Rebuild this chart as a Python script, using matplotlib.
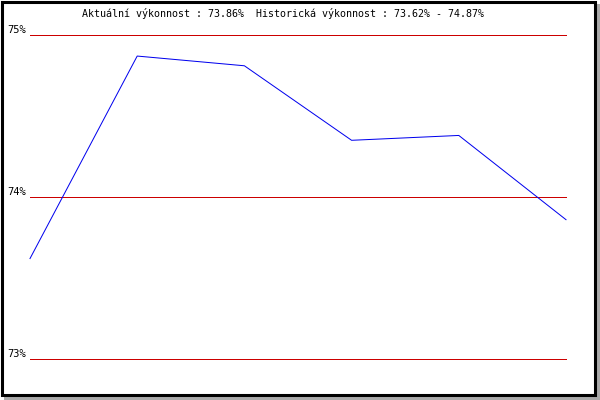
import matplotlib
matplotlib.use("Agg")
import matplotlib.pyplot as plt
from matplotlib.patches import Rectangle

# values
periods = [0, 1, 2, 3, 4, 5]
performance = [73.62, 74.87, 74.81, 74.35, 74.38, 73.86]
y_ticks = [73, 74, 75]
y_tick_labels = ["73%", "74%", "75%"]
title = "Aktuální výkonnost : 73.86%  Historická výkonnost : 73.62% - 74.87%"

W, H = 600, 400


def px(x, y):
    """Pixel coords (top-left origin) -> figure fraction."""
    return x / W, 1 - y / H


fig = plt.figure(figsize=(6, 4), dpi=100)
fig.patch.set_facecolor("white")

# drop shadow + black frame (kept below the axes)
fig.add_artist(Rectangle((4 / W, 0), 596 / W, 396 / H, transform=fig.transFigure,
                         facecolor="#aaaaaa", edgecolor="none", zorder=-2))
fig.add_artist(Rectangle((1.5 / W, 5.5 / H), 593.5 / W, 393 / H, transform=fig.transFigure,
                         facecolor="white", edgecolor="black", linewidth=2.2, zorder=-1))

left, top = px(30, 35)
right, bottom = px(566, 359)
ax = fig.add_axes([left, bottom, right - left, top - bottom])
ax.set_facecolor("none")
ax.set_xlim(periods[0], periods[-1])
ax.set_ylim(73, 75)
for s in ax.spines.values():
    s.set_visible(False)

for v in y_ticks:
    ax.axhline(v, color="#cc0000", linewidth=0.72, antialiased=False,
               clip_on=False, zorder=1)

ax.plot(periods, performance, color="#0000ee", linewidth=0.72, antialiased=True,
        clip_on=False, zorder=2)

ax.set_xticks([])
ax.set_yticks(y_ticks)
ax.set_yticklabels(y_tick_labels, fontfamily="DejaVu Sans Mono", fontsize=7.5)
ax.tick_params(axis="y", length=0, pad=3)
for lab in ax.get_yticklabels():
    lab.set_va("bottom")

tx, ty = px(82, 17)
fig.text(tx, ty, title, ha="left", va="baseline",
         fontfamily="DejaVu Sans Mono", fontsize=7.2, color="black")

fig.savefig("out.png", dpi=100)
